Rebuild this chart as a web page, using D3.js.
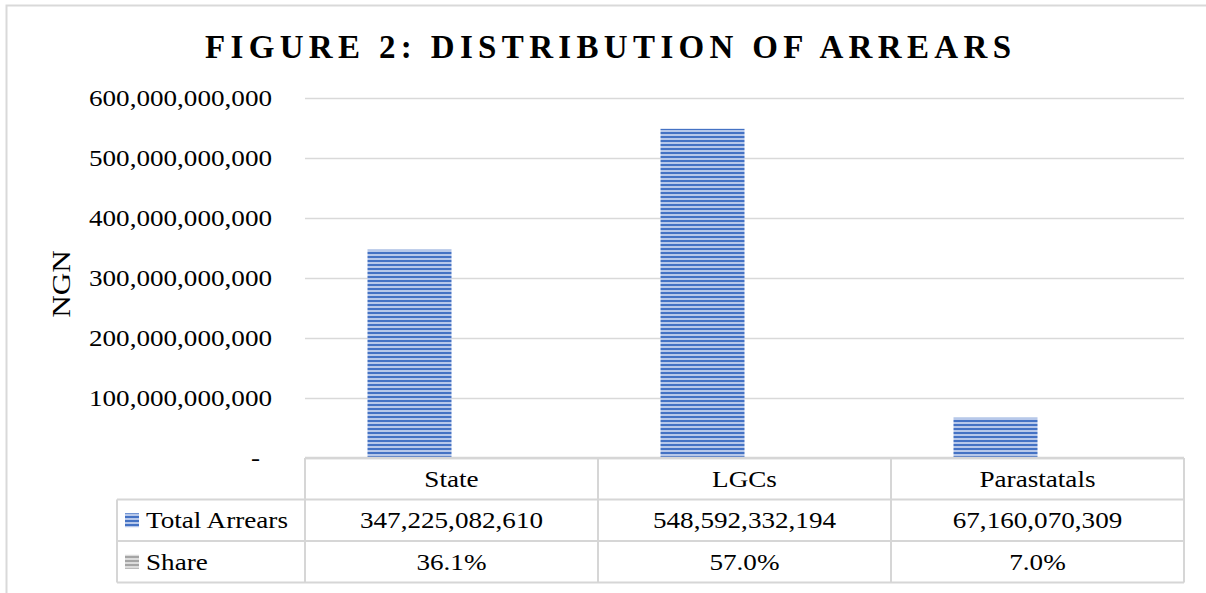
<!DOCTYPE html>
<html lang="en">
<head>
<meta charset="utf-8">
<title>Figure 2: Distribution of Arrears</title>
<script src="https://d3js.org/d3.v7.min.js"></script>
<style>
  body { margin: 0; background: #fff; }
  text { font-family: "Liberation Serif", "Times New Roman", serif; fill: #000; }
</style>
</head>
<body>
<script>
// chart values
const categories = ["State", "LGCs", "Parastatals"];
const totalArrears = [347225082610, 548592332194, 67160070309];
const shares = [0.361, 0.570, 0.070];
const yTicks = [0, 100e9, 200e9, 300e9, 400e9, 500e9, 600e9];
const seriesNames = ["Total Arrears", "Share"];

const width = 1206, height = 593;
const plotLeft = 305, plotRight = 1184, plotTop = 98, plotBottom = 458;
const rowH = 41.5;
const fontSize = 24, stretch = 1.13;

const svg = d3.select("body").append("svg")
    .attr("width", width)
    .attr("height", height);

// widen the serif a bit so it takes the room Garamond would
function widen(sel, k = stretch) {
  sel.each(function() {
    const w = this.getComputedTextLength();
    d3.select(this).attr("textLength", w * k).attr("lengthAdjust", "spacingAndGlyphs");
  });
}

// striped fills like the excel texture
const defs = svg.append("defs");
function stripes(id, dark, light) {
  const p = defs.append("pattern")
      .attr("id", id)
      .attr("patternUnits", "userSpaceOnUse")
      .attr("width", 4).attr("height", 4);
  p.append("rect").attr("width", 4).attr("height", 4).attr("fill", light);
  p.append("rect").attr("width", 4).attr("height", 2).attr("fill", dark);
}
stripes("blueStripe", "#4472c4", "#b7c8ea");
stripes("grayStripe", "#a5a5a5", "#dcdcdc");

// chart frame
svg.append("rect")
    .attr("x", 6.5).attr("y", 5.5)
    .attr("width", width + 10).attr("height", height + 10)
    .attr("fill", "none").attr("stroke", "#d9d9d9").attr("stroke-width", 2);

svg.append("text")
    .attr("x", 608)
    .attr("y", 58)
    .attr("text-anchor", "middle")
    .attr("textLength", 806)
    .attr("lengthAdjust", "spacing")
    .style("font-size", "33px")
    .style("font-weight", "bold")
    .text("FIGURE 2: DISTRIBUTION OF ARREARS");

const x = d3.scaleBand()
    .domain(categories)
    .range([plotLeft, plotRight])
    .paddingInner(0.4266)
    .paddingOuter(0.2133);

const xSub = d3.scaleBand()
    .domain(seriesNames)
    .range([0, x.bandwidth()]);

const cols = d3.scaleBand()
    .domain(categories)
    .range([plotLeft, plotRight]);

const y = d3.scaleLinear()
    .domain([0, 600e9])
    .range([plotBottom, plotTop]);

// gridlines + tick labels
const yAxis = svg.append("g")
    .attr("transform", `translate(${plotLeft},0)`)
    .call(d3.axisLeft(y)
        .tickValues(yTicks)
        .tickSize(-(plotRight - plotLeft))
        .tickPadding(33)
        .tickFormat(d => d === 0 ? "-" : d3.format(",")(d)));
yAxis.select(".domain").remove();
yAxis.selectAll(".tick line").attr("stroke", "#d9d9d9").attr("stroke-width", 1.5);
yAxis.selectAll(".tick text")
    .style("font-size", fontSize + "px")
    .style("font-family", "'Liberation Serif', serif")
    .attr("fill", "#000")
    .call(widen);
yAxis.selectAll(".tick")
    .filter(d => d === 0)
    .select("text")
    .attr("dx", -12);

svg.append("text")
    .attr("transform", `translate(70,${(plotTop + plotBottom) / 2 + 6}) rotate(-90)`)
    .attr("text-anchor", "middle")
    .style("font-size", "26px")
    .text("NGN")
    .call(widen, 1.2);

// bars: two series per category, Share is tiny on this scale
const series = [totalArrears, shares];
const fills = ["url(#blueStripe)", "url(#grayStripe)"];
seriesNames.forEach((name, s) => {
  svg.selectAll(null)
    .data(categories)
    .join("rect")
      .attr("x", d => x(d) + xSub(name))
      .attr("width", xSub.bandwidth())
      .attr("y", (d, i) => y(series[s][i]))
      .attr("height", (d, i) => y(0) - y(series[s][i]))
      .attr("fill", fills[s]);
});

// data table
const table = svg.append("g");
const tableLeft = 117;
const lineColor = "#d6d6d6";

const rowsY = [plotBottom, plotBottom + rowH, plotBottom + 2 * rowH, plotBottom + 3 * rowH];

table.append("line")
    .attr("x1", plotLeft).attr("x2", plotRight)
    .attr("y1", rowsY[0]).attr("y2", rowsY[0])
    .attr("stroke", lineColor).attr("stroke-width", 2.5);
[1, 2, 3].forEach(r => {
  table.append("line")
      .attr("x1", tableLeft).attr("x2", plotRight)
      .attr("y1", rowsY[r]).attr("y2", rowsY[r])
      .attr("stroke", lineColor).attr("stroke-width", 2);
});
table.append("line")
    .attr("x1", tableLeft).attr("x2", tableLeft)
    .attr("y1", rowsY[1]).attr("y2", rowsY[3])
    .attr("stroke", lineColor).attr("stroke-width", 2);
categories.forEach(c => {
  table.append("line")
      .attr("x1", cols(c)).attr("x2", cols(c))
      .attr("y1", rowsY[0]).attr("y2", rowsY[3])
      .attr("stroke", lineColor).attr("stroke-width", 2);
});
table.append("line")
    .attr("x1", plotRight).attr("x2", plotRight)
    .attr("y1", rowsY[0]).attr("y2", rowsY[3])
    .attr("stroke", lineColor).attr("stroke-width", 2);

const cellText = (row, vals) => table.selectAll(null)
  .data(vals)
  .join("text")
    .attr("x", (d, i) => cols(categories[i]) + cols.bandwidth() / 2)
    .attr("y", (rowsY[row] + rowsY[row + 1]) / 2 + 8)
    .attr("text-anchor", "middle")
    .style("font-size", fontSize + "px")
    .text(d => d)
    .call(widen);

cellText(0, categories);
cellText(1, totalArrears.map(d3.format(",")));
cellText(2, shares.map(d3.format(".1%")));

// legend keys in the row headers
seriesNames.forEach((name, i) => {
  const cy = (rowsY[i + 1] + rowsY[i + 2]) / 2;
  table.append("rect")
      .attr("x", 125).attr("y", cy - 7)
      .attr("width", 14).attr("height", 14)
      .attr("fill", fills[i]);
  table.append("text")
      .attr("x", 146).attr("y", cy + 8)
      .style("font-size", fontSize + "px")
      .text(name)
      .call(widen);
});
</script>
</body>
</html>
